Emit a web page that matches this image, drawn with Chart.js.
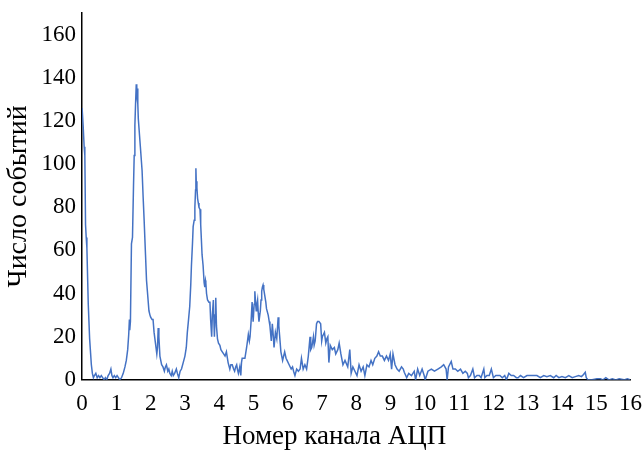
<!DOCTYPE html>
<html>
<head>
<meta charset="utf-8">
<script src="https://cdn.jsdelivr.net/npm/chart.js@4"></script>
<style>
  body { margin: 0; background: #fff; }
  canvas { display: block; }
</style>
</head>
<body>
<canvas id="myChart" width="643" height="452"></canvas>
<script>
// channel numbers (x) and event counts (y)
const channels = [
  0, 0.03, 0.06, 0.08, 0.1, 0.12, 0.14, 0.18, 0.22, 0.27, 0.3, 0.33, 0.36, 0.4, 0.44, 0.48, 0.52, 0.56, 0.6, 0.64,
  0.68, 0.72, 0.76, 0.8, 0.84, 0.87, 0.9, 0.94, 0.98, 1.02, 1.06, 1.1, 1.15, 1.2, 1.25, 1.29, 1.33, 1.36, 1.38, 1.39,
  1.41, 1.44, 1.47, 1.5, 1.52, 1.54, 1.56, 1.58, 1.59, 1.6, 1.61, 1.62, 1.63, 1.64, 1.7, 1.75, 1.78, 1.81, 1.85, 1.88,
  1.91, 1.95, 1.98, 2.0, 2.04, 2.07, 2.1, 2.14, 2.18, 2.2, 2.22, 2.24, 2.27, 2.32, 2.36, 2.4, 2.43, 2.46, 2.5, 2.53,
  2.56, 2.6, 2.63, 2.66, 2.7, 2.75, 2.78, 2.82, 2.86, 2.9, 2.95, 3.0, 3.04, 3.07, 3.1, 3.14, 3.17, 3.19, 3.22, 3.24,
  3.27, 3.29, 3.31, 3.32, 3.33, 3.35, 3.37, 3.39, 3.41, 3.44, 3.46, 3.48, 3.5, 3.53, 3.56, 3.58, 3.6, 3.61, 3.63, 3.66,
  3.7, 3.73, 3.75, 3.78, 3.8, 3.83, 3.85, 3.86, 3.88, 3.9, 3.92, 3.95, 3.98, 4.02, 4.05, 4.09, 4.13, 4.17, 4.21, 4.26,
  4.31, 4.34, 4.38, 4.42, 4.45, 4.48, 4.51, 4.53, 4.56, 4.6, 4.63, 4.65, 4.67, 4.71, 4.75, 4.8, 4.85, 4.88, 4.9, 4.93,
  4.96, 4.99, 5.02, 5.04, 5.06, 5.08, 5.1, 5.12, 5.14, 5.16, 5.2, 5.22, 5.24, 5.26, 5.28, 5.3, 5.33, 5.36, 5.38, 5.43,
  5.46, 5.48, 5.52, 5.55, 5.58, 5.6, 5.64, 5.68, 5.7, 5.72, 5.74, 5.76, 5.8, 5.85, 5.88, 5.91, 5.95, 5.98, 6.04, 6.1,
  6.14, 6.17, 6.21, 6.26, 6.31, 6.36, 6.4, 6.45, 6.5, 6.55, 6.6, 6.65, 6.67, 6.7, 6.75, 6.77, 6.8, 6.84, 6.87, 6.91,
  6.96, 6.99, 7.01, 7.04, 7.07, 7.11, 7.14, 7.17, 7.2, 7.24, 7.3, 7.36, 7.4, 7.46, 7.5, 7.55, 7.61, 7.67, 7.75, 7.81,
  7.85, 7.9, 7.96, 8.02, 8.08, 8.14, 8.2, 8.25, 8.31, 8.37, 8.43, 8.48, 8.54, 8.6, 8.65, 8.7, 8.76, 8.82, 8.88, 8.94,
  8.99, 9.03, 9.07, 9.13, 9.19, 9.25, 9.32, 9.37, 9.4, 9.47, 9.53, 9.61, 9.69, 9.73, 9.79, 9.85, 9.92, 9.98, 10.01, 10.09,
  10.19, 10.28, 10.38, 10.48, 10.55, 10.62, 10.65, 10.69, 10.77, 10.82, 10.89, 10.96, 11.04, 11.11, 11.18, 11.24, 11.27, 11.33, 11.4, 11.45,
  11.52, 11.59, 11.64, 11.72, 11.75, 11.81, 11.88, 11.94, 12.0, 12.07, 12.12, 12.19, 12.26, 12.33, 12.38, 12.45, 12.52, 12.59, 12.67, 12.72,
  12.79, 12.88, 12.98, 13.08, 13.18, 13.27, 13.37, 13.47, 13.56, 13.66, 13.76, 13.83, 13.91, 14.0, 14.1, 14.2, 14.3, 14.39, 14.49, 14.57,
  14.63, 14.68, 14.71, 14.76, 14.88, 15.02, 15.12, 15.2, 15.28, 15.37, 15.47, 15.57, 15.67, 15.81, 15.91, 16.0
]
const counts = [
  126, 118, 108, 104, 72, 66, 61, 35, 19, 7, 3, 1, 2, 3, 1, 2, 1, 2, 1, 0,
  1, 0, 2, 3, 5, 2, 1, 2, 1, 2, 1, 0, 1, 3, 6, 9, 14, 21, 28, 23,
  27, 63, 66, 90, 104, 118, 128, 137, 133, 136, 130, 135, 128, 121, 108, 97, 85, 74, 58, 46,
  40, 32, 30, 29, 28, 28, 22, 17, 12, 15, 24, 20, 11, 7, 6, 4, 6, 7, 4, 5,
  3, 2, 4, 2, 3, 5, 3, 1, 4, 5, 8, 11, 15, 22, 27, 34, 44, 53, 63, 71,
  74, 80, 88, 98, 92, 89, 84, 82, 80, 79, 72, 65, 58, 53, 45, 43, 46, 45, 40, 37,
  36, 36, 28, 20, 30, 37, 25, 20, 30, 38, 25, 19, 17, 16, 14, 13, 12, 11, 13, 8,
  5, 7, 7, 5, 4, 6, 7, 5, 3, 6, 2, 8, 10, 10, 10, 15, 21, 18, 20, 27,
  36, 27, 35, 41, 36, 32, 35, 37, 31, 27, 32, 37, 41, 43, 44, 42, 39, 36, 33, 30,
  27, 25, 18, 26, 20, 15, 22, 19, 24, 29, 25, 21, 13, 9, 11, 13, 10, 9, 7, 5,
  6, 4, 2, 5, 4, 5, 10, 5, 7, 5, 11, 20, 14, 15, 20, 16, 18, 26, 27, 27,
  26, 18, 20, 21, 22, 17, 19, 20, 8, 16, 14, 15, 12, 14, 17, 12, 7, 9, 6, 14,
  3, 6, 4, 2, 7, 4, 6, 2, 7, 6, 9, 7, 10, 11, 13, 11, 11, 9, 11, 9,
  12, 5, 12, 7, 5, 4, 6, 5, 3.5, 1, 3, 2, 4, 0, 5, 2, 5, 2, 0, 4,
  5, 4, 5, 6, 7, 5, 0, 6, 8.5, 5, 5, 4, 5, 3, 4, 3, 1, 2, 5, 1,
  2, 2, 1, 5, 1, 2, 2, 5, 1, 2, 2, 2, 1, 2, 0, 3, 2, 2, 1, 1,
  2, 1, 2, 2, 2, 2, 1, 2, 1.5, 2, 1, 2, 1, 1.5, 1, 2, 1, 1.5, 2, 1.5,
  2.5, 3.5, 1, 0, 0, 0.5, 0.5, 0, 1, 0, 0.5, 0, 0.5, 0, 0.5, 0
]
const yTickValues = [0, 20, 40, 60, 80, 100, 120, 140, 160]
const xTitle = "Номер канала АЦП"
const yTitle = "Число событий"

const serif = "'Liberation Serif', 'Times New Roman', serif"

// Excel puts the x title a bit left of the plot centre
const xTitlePlugin = {
  id: "xTitle",
  afterDraw(chart) {
    const ctx = chart.ctx
    ctx.save()
    ctx.font = "27px " + serif
    ctx.fillStyle = "#000"
    ctx.textAlign = "center"
    ctx.textBaseline = "middle"
    ctx.fillText(xTitle, chart.width * 0.52, 437)
    ctx.restore()
  }
}

new Chart("myChart", {
  type: "line",
  data: {
    datasets: [{
      data: channels.map((x, i) => ({ x: x, y: counts[i] })),
      borderColor: "#4472C4",
      borderWidth: 1.5,
      pointRadius: 0,
      tension: 0,
      fill: false
    }]
  },
  options: {
    responsive: false,
    animation: false,
    devicePixelRatio: 1,
    layout: { padding: { left: 0, right: 1, top: 13, bottom: 23 } },
    plugins: { legend: { display: false }, tooltip: { enabled: false } },
    scales: {
      x: {
        type: "linear",
        min: 0,
        max: 16,
        grid: { display: false, drawTicks: false },
        border: { display: true, color: "#000", width: 1.5 },
        // small padding keeps the right edge tight, line height pushes labels down
        ticks: { stepSize: 1, color: "#000", font: { family: serif, size: 23, lineHeight: 2.05 }, padding: 1, maxRotation: 0 }
      },
      y: {
        min: 0,
        max: 170,
        grid: { display: false, drawTicks: false },
        border: { display: true, color: "#000", width: 1.5 },
        afterBuildTicks: (scale) => { scale.ticks = yTickValues.map(v => ({ value: v })) },
        ticks: { color: "#000", font: { family: serif, size: 23, lineHeight: 0.6 }, padding: 6 },
        title: { display: true, text: yTitle, color: "#000", font: { family: serif, size: 28 }, padding: { top: 2, bottom: 0 } }
      }
    }
  },
  plugins: [xTitlePlugin]
})
</script>
</body>
</html>
